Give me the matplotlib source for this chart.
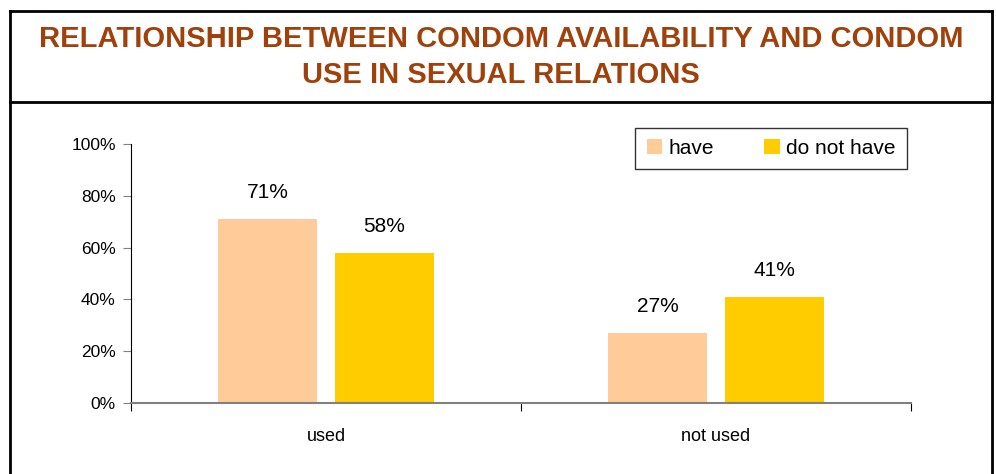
import matplotlib.pyplot as plt
import numpy as np
from matplotlib.lines import Line2D

plt.rcParams['font.family'] = ['Liberation Sans', 'DejaVu Sans']

categories = ['used', 'not used']
series_names = ['have', 'do not have']
have = [71, 27]
do_not_have = [58, 41]
yticks = [0, 20, 40, 60, 80, 100]
ytick_labels = ['0%', '20%', '40%', '60%', '80%', '100%']

colors = ['#FFCC99', '#FFCC00']

fig = plt.figure(figsize=(9.96, 4.74), dpi=100)
W, H = 996, 474

# frame around the chart and the title band
def fig_line(xs, ys, lw=2):
    fig.add_artist(Line2D([x / W for x in xs], [1 - y / H for y in ys],
                          color='black', lw=lw, transform=fig.transFigure))

fig_line([9.5, 9.5], [10.5, H])
fig_line([992, 992], [10.5, H])
fig_line([9.5, 992], [10.5, 10.5])
fig_line([9.5, 992], [101.5, 101.5])

fig.text(501 / W, 1 - 57 / H,
         'RELATIONSHIP BETWEEN CONDOM AVAILABILITY AND CONDOM\nUSE IN SEXUAL RELATIONS',
         ha='center', va='center', fontsize=21, fontweight='bold',
         color='#A0400A', linespacing=1.38)

ax = fig.add_axes([131 / W, 1 - 403 / H, (911 - 131) / W, (403 - 144) / H])

x = np.arange(len(categories))
width = 0.254
offset = 0.149
bars1 = ax.bar(x - offset, have, width, color=colors[0], label=series_names[0])
bars2 = ax.bar(x + offset, do_not_have, width, color=colors[1], label=series_names[1])

for bars, vals in [(bars1, have), (bars2, do_not_have)]:
    for b, v in zip(bars, vals):
        ax.annotate(f'{v}%', (b.get_x() + b.get_width() / 2, v),
                    xytext=(0, 12), textcoords='offset points',
                    ha='center', va='bottom', fontsize=15)

ax.set_xlim(-0.5, len(categories) - 0.5)
ax.set_ylim(0, 100)
ax.set_yticks(yticks)
ax.set_yticklabels(ytick_labels, fontsize=12.5)
ax.set_xticks([-0.5, 0.5, 1.5])
ax.set_xticklabels([])
ax.set_xticks(x, minor=True)
ax.set_xticklabels(categories, minor=True, fontsize=13)
ax.tick_params(axis='x', which='minor', length=0, pad=18)
ax.tick_params(axis='x', which='major', length=6, direction='out', color='black')
ax.tick_params(axis='y', length=6, direction='out', color='#808080', pad=5)

for s in ['top', 'right']:
    ax.spines[s].set_visible(False)
ax.spines['left'].set_color('black')
ax.spines['bottom'].set_color('#808080')
ax.spines['bottom'].set_linewidth(1.5)

leg = ax.legend(loc='center', bbox_to_anchor=(771 / W, 1 - 148.5 / H),
                bbox_transform=fig.transFigure, ncol=2, frameon=True,
                fancybox=False, fontsize=15, handlelength=0.75, handleheight=0.75,
                handletextpad=0.3, columnspacing=2.4, borderpad=0.55, borderaxespad=0)
leg.get_frame().set_edgecolor('black')
leg.get_frame().set_linewidth(1)

fig.savefig('out.png', dpi=100)
